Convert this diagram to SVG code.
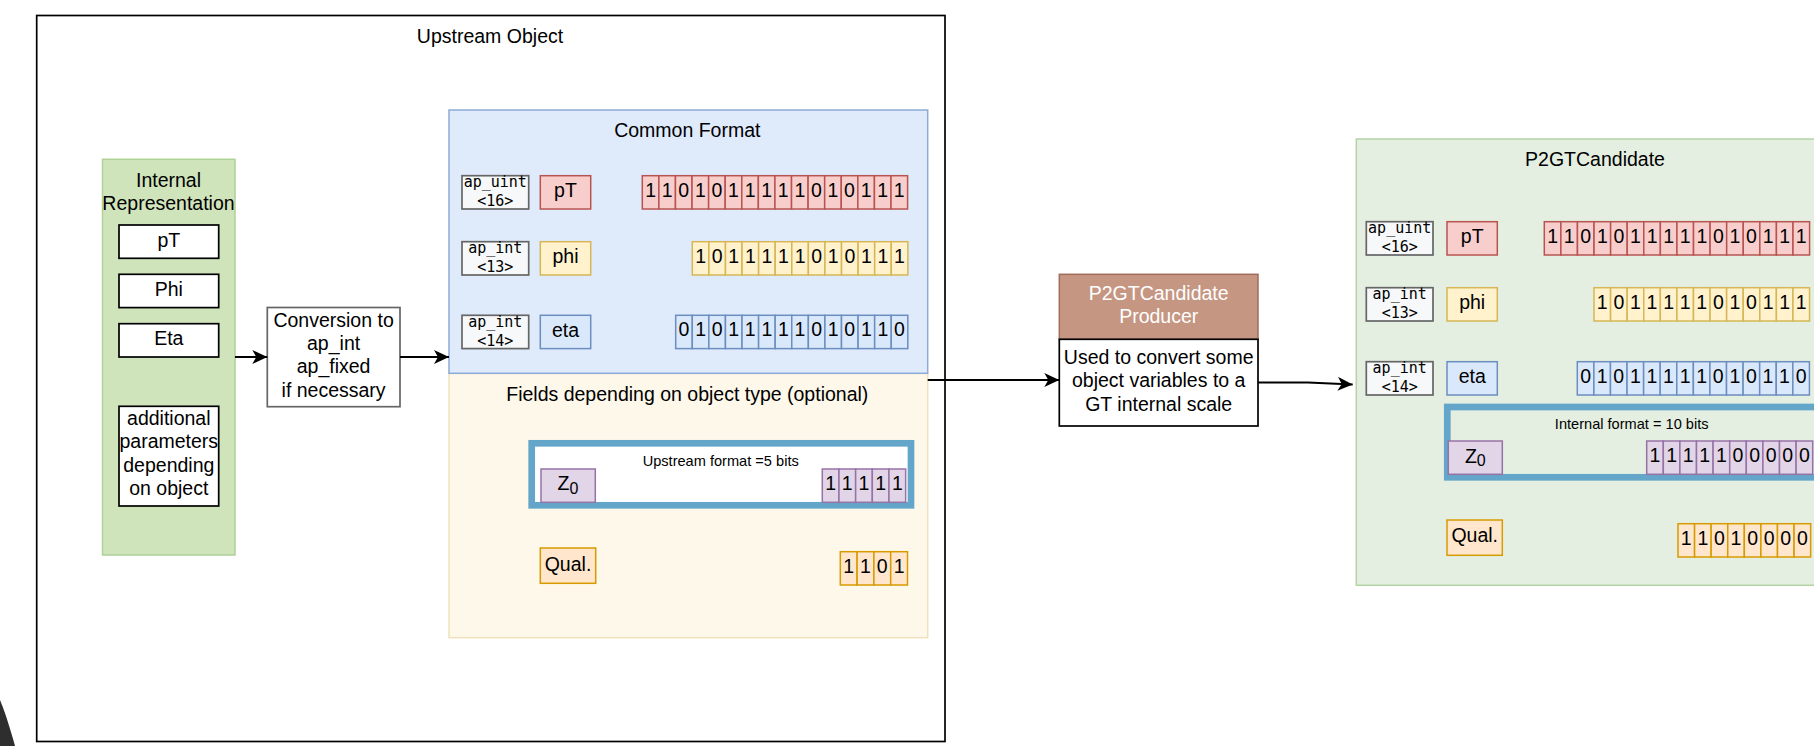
<svg xmlns="http://www.w3.org/2000/svg" width="1814" height="746" viewBox="0 0 1814 746">
<style>
text{font-family:"Liberation Sans",Arial,sans-serif;font-size:19.5px;fill:#000}
.mid{text-anchor:middle}
.mono{font-family:"DejaVu Sans Mono","Liberation Mono",monospace;font-size:15px}
.small{font-size:14.6px}
.wh{fill:#fff}
.ap{fill:#f6f8f9;stroke:#666;stroke-width:1.7}
.red rect{fill:#f8cecc;stroke:#b85450;stroke-width:1.5}
.yel rect{fill:#fff2cc;stroke:#d6b656;stroke-width:1.5}
.blu rect{fill:#dae8fc;stroke:#6c8ebf;stroke-width:1.5}
.pur rect{fill:#e1d5e7;stroke:#9673a6;stroke-width:1.5}
.org rect{fill:#ffe6cc;stroke:#d79b00;stroke-width:1.5}
.bx{fill:#fff;stroke:#000;stroke-width:1.7}
.frame{stroke:#64a6c9;stroke-width:6.7}
.conn path{fill:none;stroke:#000;stroke-width:2}
</style>
<defs>
<marker id="arr" markerUnits="userSpaceOnUse" markerWidth="16" markerHeight="14" refX="15" refY="7" orient="auto">
<path d="M0,0 L15,7 L0,14 L4,7 Z" fill="#000"/>
</marker>
</defs>

<path id="corner" d="M0 700 C5 712 10 728 15 746 L0 746 Z" fill="#2e2e2e"/>

<g id="upstream-object">
<rect x="36.7" y="15.5" width="908.3" height="726" fill="#fff" stroke="#000" stroke-width="1.7"/>
<text x="490" y="42.7" class="mid">Upstream Object</text>
</g>

<g id="internal-representation">
<rect x="102.5" y="159.3" width="132.5" height="395.7" fill="#d0e4bb" stroke="#aed196" stroke-width="1.5"/>
<text x="168.5" y="186.7" class="mid">Internal</text>
<text x="168.5" y="210" class="mid">Representation</text>
</g>
<g id="ir-pt"><rect class="bx" x="119" y="225" width="99.7" height="33.3"/><text x="168.8" y="246.7" class="mid">pT</text></g>
<g id="ir-phi"><rect class="bx" x="119" y="274.3" width="99.7" height="33.3"/><text x="168.8" y="296" class="mid">Phi</text></g>
<g id="ir-eta"><rect class="bx" x="119" y="323.7" width="99.7" height="33.3"/><text x="168.8" y="345.4" class="mid">Eta</text></g>
<g id="ir-additional"><rect class="bx" x="119" y="406.3" width="99.7" height="99.7"/>
<text x="168.8" y="425" class="mid">additional</text>
<text x="168.8" y="448.4" class="mid">parameters</text>
<text x="168.8" y="471.8" class="mid">depending</text>
<text x="168.8" y="495.2" class="mid">on object</text>
</g>

<g id="conversion">
<rect x="267.3" y="307.5" width="132.7" height="99.2" fill="#fff" stroke="#666" stroke-width="1.7"/>
<text x="333.6" y="326.7" class="mid">Conversion to</text>
<text x="333.6" y="350" class="mid">ap_int</text>
<text x="333.6" y="373.3" class="mid">ap_fixed</text>
<text x="333.6" y="396.7" class="mid">if necessary</text>
</g>

<g id="fields-optional">
<rect x="449" y="373.3" width="478.7" height="264.4" fill="#fef8ea" stroke="#efe3bf" stroke-width="1.5"/>
<text x="687.3" y="400.7" class="mid">Fields depending on object type (optional)</text>
</g>

<g id="common-format">
<rect x="449" y="110" width="478.7" height="263.3" fill="#dfeafb" stroke="#8eaad6" stroke-width="1.5"/>
<text x="687.3" y="137.3" class="mid">Common Format</text>
</g>

<g id="cf-pt">
<rect class="ap" x="462" y="175.7" width="66.7" height="33.3"/>
<text x="495.3" y="187.3" class="mid mono">ap_uint</text><text x="495.3" y="206" class="mid mono">&lt;16&gt;</text>
<g class="red"><rect x="540.3" y="175.7" width="50.4" height="33.3"/></g>
<text x="565.5" y="197" class="mid">pT</text>
<g class="red" transform="translate(642.3,175.7)">
<rect x="0" width="16.58" height="33.3"/><rect x="16.58" width="16.58" height="33.3"/><rect x="33.16" width="16.58" height="33.3"/><rect x="49.74" width="16.58" height="33.3"/><rect x="66.32" width="16.58" height="33.3"/><rect x="82.9" width="16.58" height="33.3"/><rect x="99.48" width="16.58" height="33.3"/><rect x="116.06" width="16.58" height="33.3"/><rect x="132.64" width="16.58" height="33.3"/><rect x="149.22" width="16.58" height="33.3"/><rect x="165.8" width="16.58" height="33.3"/><rect x="182.38" width="16.58" height="33.3"/><rect x="198.96" width="16.58" height="33.3"/><rect x="215.54" width="16.58" height="33.3"/><rect x="232.12" width="16.58" height="33.3"/><rect x="248.7" width="16.58" height="33.3"/>
<text y="21" x="8.29" class="mid">1</text><text y="21" x="24.87" class="mid">1</text><text y="21" x="41.45" class="mid">0</text><text y="21" x="58.03" class="mid">1</text><text y="21" x="74.61" class="mid">0</text><text y="21" x="91.19" class="mid">1</text><text y="21" x="107.77" class="mid">1</text><text y="21" x="124.35" class="mid">1</text><text y="21" x="140.93" class="mid">1</text><text y="21" x="157.51" class="mid">1</text><text y="21" x="174.09" class="mid">0</text><text y="21" x="190.67" class="mid">1</text><text y="21" x="207.25" class="mid">0</text><text y="21" x="223.83" class="mid">1</text><text y="21" x="240.41" class="mid">1</text><text y="21" x="256.99" class="mid">1</text>
</g>
</g>

<g id="cf-phi">
<rect class="ap" x="462" y="241.7" width="66.7" height="33.3"/>
<text x="495.3" y="253.3" class="mid mono">ap_int</text><text x="495.3" y="272" class="mid mono">&lt;13&gt;</text>
<g class="yel"><rect x="540.3" y="241.7" width="50.4" height="33.3"/></g>
<text x="565.5" y="263" class="mid">phi</text>
<g class="yel" transform="translate(692.3,241.7)">
<rect x="0" width="16.58" height="33.3"/><rect x="16.58" width="16.58" height="33.3"/><rect x="33.16" width="16.58" height="33.3"/><rect x="49.74" width="16.58" height="33.3"/><rect x="66.32" width="16.58" height="33.3"/><rect x="82.9" width="16.58" height="33.3"/><rect x="99.48" width="16.58" height="33.3"/><rect x="116.06" width="16.58" height="33.3"/><rect x="132.64" width="16.58" height="33.3"/><rect x="149.22" width="16.58" height="33.3"/><rect x="165.8" width="16.58" height="33.3"/><rect x="182.38" width="16.58" height="33.3"/><rect x="198.96" width="16.58" height="33.3"/>
<text y="21" x="8.29" class="mid">1</text><text y="21" x="24.87" class="mid">0</text><text y="21" x="41.45" class="mid">1</text><text y="21" x="58.03" class="mid">1</text><text y="21" x="74.61" class="mid">1</text><text y="21" x="91.19" class="mid">1</text><text y="21" x="107.77" class="mid">1</text><text y="21" x="124.35" class="mid">0</text><text y="21" x="140.93" class="mid">1</text><text y="21" x="157.51" class="mid">0</text><text y="21" x="174.09" class="mid">1</text><text y="21" x="190.67" class="mid">1</text><text y="21" x="207.25" class="mid">1</text>
</g>
</g>

<g id="cf-eta">
<rect class="ap" x="462" y="315.3" width="66.7" height="33.3"/>
<text x="495.3" y="326.9" class="mid mono">ap_int</text><text x="495.3" y="345.6" class="mid mono">&lt;14&gt;</text>
<g class="blu"><rect x="540.3" y="315.3" width="50.4" height="33.3"/></g>
<text x="565.5" y="336.6" class="mid">eta</text>
<g class="blu" transform="translate(675.7,315.3)">
<rect x="0" width="16.58" height="33.3"/><rect x="16.58" width="16.58" height="33.3"/><rect x="33.16" width="16.58" height="33.3"/><rect x="49.74" width="16.58" height="33.3"/><rect x="66.32" width="16.58" height="33.3"/><rect x="82.9" width="16.58" height="33.3"/><rect x="99.48" width="16.58" height="33.3"/><rect x="116.06" width="16.58" height="33.3"/><rect x="132.64" width="16.58" height="33.3"/><rect x="149.22" width="16.58" height="33.3"/><rect x="165.8" width="16.58" height="33.3"/><rect x="182.38" width="16.58" height="33.3"/><rect x="198.96" width="16.58" height="33.3"/><rect x="215.54" width="16.58" height="33.3"/>
<text y="21" x="8.29" class="mid">0</text><text y="21" x="24.87" class="mid">1</text><text y="21" x="41.45" class="mid">0</text><text y="21" x="58.03" class="mid">1</text><text y="21" x="74.61" class="mid">1</text><text y="21" x="91.19" class="mid">1</text><text y="21" x="107.77" class="mid">1</text><text y="21" x="124.35" class="mid">1</text><text y="21" x="140.93" class="mid">0</text><text y="21" x="157.51" class="mid">1</text><text y="21" x="174.09" class="mid">0</text><text y="21" x="190.67" class="mid">1</text><text y="21" x="207.25" class="mid">1</text><text y="21" x="223.83" class="mid">0</text>
</g>
</g>

<g id="up-z0">
<rect class="frame" x="531.7" y="443.3" width="379.3" height="62" fill="#fff"/>
<text x="720.7" y="466" class="mid small">Upstream format =5 bits</text>
<g class="pur"><rect x="541" y="469" width="54.3" height="33.3"/></g>
<text x="568" y="490" class="mid">Z<tspan font-size="16" dy="3.5">0</tspan></text>
<g class="pur" transform="translate(822.3,469)">
<rect x="0" width="16.67" height="33.3"/><rect x="16.67" width="16.67" height="33.3"/><rect x="33.34" width="16.67" height="33.3"/><rect x="50.01" width="16.67" height="33.3"/><rect x="66.68" width="16.67" height="33.3"/>
<text y="21" x="8.33" class="mid">1</text><text y="21" x="25" class="mid">1</text><text y="21" x="41.67" class="mid">1</text><text y="21" x="58.34" class="mid">1</text><text y="21" x="75.01" class="mid">1</text>
</g>
</g>

<g id="up-qual">
<g class="org"><rect x="540.3" y="548" width="55.4" height="35.3"/></g>
<text x="568" y="570.5" class="mid">Qual.</text>
<g class="org" transform="translate(840.3,551.7)">
<rect x="0" width="16.8" height="33.3"/><rect x="16.8" width="16.8" height="33.3"/><rect x="33.6" width="16.8" height="33.3"/><rect x="50.4" width="16.8" height="33.3"/>
<text y="21" x="8.4" class="mid">1</text><text y="21" x="25.2" class="mid">1</text><text y="21" x="42" class="mid">0</text><text y="21" x="58.8" class="mid">1</text>
</g>
</g>

<g id="producer">
<rect x="1059.3" y="274.3" width="198.7" height="65" fill="#c59682" stroke="#a26d5b" stroke-width="1.5"/>
<text x="1158.7" y="300" class="mid wh">P2GTCandidate</text>
<text x="1158.7" y="323.4" class="mid wh">Producer</text>
<rect x="1059.3" y="339.3" width="198.7" height="86.7" fill="#fff" stroke="#000" stroke-width="1.7"/>
<text x="1158.7" y="364" class="mid">Used to convert some</text>
<text x="1158.7" y="387.4" class="mid">object variables to a</text>
<text x="1158.7" y="410.8" class="mid">GT internal scale</text>
</g>

<g id="p2gt-candidate">
<rect x="1356.3" y="139" width="500" height="446.3" fill="#e4efe1" stroke="#b4d4a5" stroke-width="1.5"/>
<text x="1595" y="166" class="mid">P2GTCandidate</text>
</g>

<g id="gt-pt">
<rect class="ap" x="1366.3" y="221.7" width="66.7" height="33.3"/>
<text x="1399.7" y="233.3" class="mid mono">ap_uint</text><text x="1399.7" y="252" class="mid mono">&lt;16&gt;</text>
<g class="red"><rect x="1447" y="221.7" width="50.3" height="33.3"/></g>
<text x="1472.2" y="243" class="mid">pT</text>
<g class="red" transform="translate(1544.3,221.7)">
<rect x="0" width="16.58" height="33.3"/><rect x="16.58" width="16.58" height="33.3"/><rect x="33.16" width="16.58" height="33.3"/><rect x="49.74" width="16.58" height="33.3"/><rect x="66.32" width="16.58" height="33.3"/><rect x="82.9" width="16.58" height="33.3"/><rect x="99.48" width="16.58" height="33.3"/><rect x="116.06" width="16.58" height="33.3"/><rect x="132.64" width="16.58" height="33.3"/><rect x="149.22" width="16.58" height="33.3"/><rect x="165.8" width="16.58" height="33.3"/><rect x="182.38" width="16.58" height="33.3"/><rect x="198.96" width="16.58" height="33.3"/><rect x="215.54" width="16.58" height="33.3"/><rect x="232.12" width="16.58" height="33.3"/><rect x="248.7" width="16.58" height="33.3"/>
<text y="21" x="8.29" class="mid">1</text><text y="21" x="24.87" class="mid">1</text><text y="21" x="41.45" class="mid">0</text><text y="21" x="58.03" class="mid">1</text><text y="21" x="74.61" class="mid">0</text><text y="21" x="91.19" class="mid">1</text><text y="21" x="107.77" class="mid">1</text><text y="21" x="124.35" class="mid">1</text><text y="21" x="140.93" class="mid">1</text><text y="21" x="157.51" class="mid">1</text><text y="21" x="174.09" class="mid">0</text><text y="21" x="190.67" class="mid">1</text><text y="21" x="207.25" class="mid">0</text><text y="21" x="223.83" class="mid">1</text><text y="21" x="240.41" class="mid">1</text><text y="21" x="256.99" class="mid">1</text>
</g>
</g>

<g id="gt-phi">
<rect class="ap" x="1366.3" y="287.7" width="66.7" height="33.3"/>
<text x="1399.7" y="299.3" class="mid mono">ap_int</text><text x="1399.7" y="318" class="mid mono">&lt;13&gt;</text>
<g class="yel"><rect x="1447" y="287.7" width="50.3" height="33.3"/></g>
<text x="1472.2" y="309" class="mid">phi</text>
<g class="yel" transform="translate(1594,287.7)">
<rect x="0" width="16.58" height="33.3"/><rect x="16.58" width="16.58" height="33.3"/><rect x="33.16" width="16.58" height="33.3"/><rect x="49.74" width="16.58" height="33.3"/><rect x="66.32" width="16.58" height="33.3"/><rect x="82.9" width="16.58" height="33.3"/><rect x="99.48" width="16.58" height="33.3"/><rect x="116.06" width="16.58" height="33.3"/><rect x="132.64" width="16.58" height="33.3"/><rect x="149.22" width="16.58" height="33.3"/><rect x="165.8" width="16.58" height="33.3"/><rect x="182.38" width="16.58" height="33.3"/><rect x="198.96" width="16.58" height="33.3"/>
<text y="21" x="8.29" class="mid">1</text><text y="21" x="24.87" class="mid">0</text><text y="21" x="41.45" class="mid">1</text><text y="21" x="58.03" class="mid">1</text><text y="21" x="74.61" class="mid">1</text><text y="21" x="91.19" class="mid">1</text><text y="21" x="107.77" class="mid">1</text><text y="21" x="124.35" class="mid">0</text><text y="21" x="140.93" class="mid">1</text><text y="21" x="157.51" class="mid">0</text><text y="21" x="174.09" class="mid">1</text><text y="21" x="190.67" class="mid">1</text><text y="21" x="207.25" class="mid">1</text>
</g>
</g>

<g id="gt-eta">
<rect class="ap" x="1366.3" y="361.7" width="66.7" height="33.3"/>
<text x="1399.7" y="373.3" class="mid mono">ap_int</text><text x="1399.7" y="392" class="mid mono">&lt;14&gt;</text>
<g class="blu"><rect x="1447" y="361.7" width="50.3" height="33.3"/></g>
<text x="1472.2" y="383" class="mid">eta</text>
<g class="blu" transform="translate(1577.3,361.7)">
<rect x="0" width="16.58" height="33.3"/><rect x="16.58" width="16.58" height="33.3"/><rect x="33.16" width="16.58" height="33.3"/><rect x="49.74" width="16.58" height="33.3"/><rect x="66.32" width="16.58" height="33.3"/><rect x="82.9" width="16.58" height="33.3"/><rect x="99.48" width="16.58" height="33.3"/><rect x="116.06" width="16.58" height="33.3"/><rect x="132.64" width="16.58" height="33.3"/><rect x="149.22" width="16.58" height="33.3"/><rect x="165.8" width="16.58" height="33.3"/><rect x="182.38" width="16.58" height="33.3"/><rect x="198.96" width="16.58" height="33.3"/><rect x="215.54" width="16.58" height="33.3"/>
<text y="21" x="8.29" class="mid">0</text><text y="21" x="24.87" class="mid">1</text><text y="21" x="41.45" class="mid">0</text><text y="21" x="58.03" class="mid">1</text><text y="21" x="74.61" class="mid">1</text><text y="21" x="91.19" class="mid">1</text><text y="21" x="107.77" class="mid">1</text><text y="21" x="124.35" class="mid">1</text><text y="21" x="140.93" class="mid">0</text><text y="21" x="157.51" class="mid">1</text><text y="21" x="174.09" class="mid">0</text><text y="21" x="190.67" class="mid">1</text><text y="21" x="207.25" class="mid">1</text><text y="21" x="223.83" class="mid">0</text>
</g>
</g>

<g id="gt-z0">
<rect class="frame" x="1447.3" y="407" width="380" height="70.3" fill="none" stroke-width="6.3"/>
<text x="1631.7" y="429.3" class="mid small">Internal format = 10 bits</text>
<g class="pur"><rect x="1448.3" y="441" width="54" height="33.3"/></g>
<text x="1475.3" y="463.3" class="mid">Z<tspan font-size="16" dy="3">0</tspan></text>
<g class="pur" transform="translate(1646.7,441)">
<rect x="0" width="16.6" height="33.3"/><rect x="16.6" width="16.6" height="33.3"/><rect x="33.2" width="16.6" height="33.3"/><rect x="49.8" width="16.6" height="33.3"/><rect x="66.4" width="16.6" height="33.3"/><rect x="83" width="16.6" height="33.3"/><rect x="99.6" width="16.6" height="33.3"/><rect x="116.2" width="16.6" height="33.3"/><rect x="132.8" width="16.6" height="33.3"/><rect x="149.4" width="16.6" height="33.3"/>
<text y="21" x="8.3" class="mid">1</text><text y="21" x="24.9" class="mid">1</text><text y="21" x="41.5" class="mid">1</text><text y="21" x="58.1" class="mid">1</text><text y="21" x="74.7" class="mid">1</text><text y="21" x="91.3" class="mid">0</text><text y="21" x="107.9" class="mid">0</text><text y="21" x="124.5" class="mid">0</text><text y="21" x="141.1" class="mid">0</text><text y="21" x="157.7" class="mid">0</text>
</g>
</g>

<g id="gt-qual">
<g class="org"><rect x="1447" y="520" width="55.3" height="35.3"/></g>
<text x="1474.7" y="541.7" class="mid">Qual.</text>
<g class="org" transform="translate(1678,523.7)">
<rect x="0" width="16.58" height="33.3"/><rect x="16.58" width="16.58" height="33.3"/><rect x="33.16" width="16.58" height="33.3"/><rect x="49.74" width="16.58" height="33.3"/><rect x="66.32" width="16.58" height="33.3"/><rect x="82.9" width="16.58" height="33.3"/><rect x="99.48" width="16.58" height="33.3"/><rect x="116.06" width="16.58" height="33.3"/>
<text y="21" x="8.29" class="mid">1</text><text y="21" x="24.87" class="mid">1</text><text y="21" x="41.45" class="mid">0</text><text y="21" x="58.03" class="mid">1</text><text y="21" x="74.61" class="mid">0</text><text y="21" x="91.19" class="mid">0</text><text y="21" x="107.77" class="mid">0</text><text y="21" x="124.35" class="mid">0</text>
</g>
</g>

<g id="connectors" class="conn">
<path d="M235 357 H267.3" marker-end="url(#arr)"/>
<path d="M400 357 H449" marker-end="url(#arr)"/>
<path d="M927.7 380 H1059.3" marker-end="url(#arr)"/>
<path d="M1258 382.5 H1308 L1352.7 384.5" marker-end="url(#arr)"/>
</g>
</svg>
